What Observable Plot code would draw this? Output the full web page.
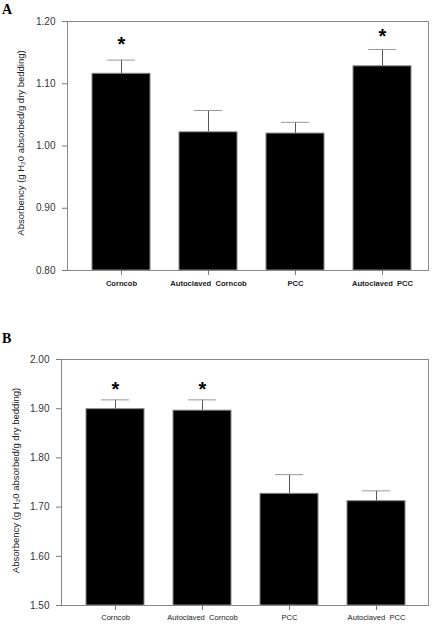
<!DOCTYPE html>
<html>
<head>
<meta charset="utf-8">
<script src="https://cdn.jsdelivr.net/npm/d3@7"></script>
<script src="https://cdn.jsdelivr.net/npm/@observablehq/plot@0.6"></script>
<style>
  html, body { margin: 0; padding: 0; background: #fff; }
  #wrap { position: relative; width: 438px; height: 626px; overflow: hidden; font-family: "Liberation Sans", Arial, sans-serif; }
  .panel { position: absolute; left: 0; }
  .letter { position: absolute; font-family: "Liberation Serif", "DejaVu Serif", serif; font-weight: bold; font-size: 14px; line-height: 1; color: #000; }
</style>
</head>
<body>
<div id="wrap">
  <div class="letter" style="left:2px; top:3px;">A</div>
  <div class="letter" style="left:2px; top:332px;">B</div>
  <div id="pa" class="panel" style="top:0px;"></div>
  <div id="pb" class="panel" style="top:310px;"></div>
</div>
<script>
// ---- data ----
const groups = ["Corncob", "Autoclaved Corncob", "PCC", "Autoclaved PCC"];
const tickLabels = ["Corncob", "Autoclaved\u00a0 Corncob", "PCC", "Autoclaved\u00a0 PCC"];

const meanA = [1.116, 1.022, 1.020, 1.128];
const seA   = [0.022, 0.035, 0.018, 0.027];
const starA = [1.167, null, null, 1.179];
const ticksA = [0.80, 0.90, 1.00, 1.10, 1.20];

const meanB = [1.899, 1.896, 1.727, 1.712];
const seB   = [0.019, 0.022, 0.039, 0.021];
const starB = [1.943, 1.943, null, null];
const ticksB = [1.50, 1.60, 1.70, 1.80, 1.90, 2.00];

const yLabel = "Absorbency (g H\u20820 absorbed/g dry bedding)";

function build(mean, se, star, ticks, opts) {
  const rows = groups.map((g, i) => ({g, mean: mean[i], top: mean[i] + se[i]}));
  const stars = groups.map((g, i) => ({g, v: star[i]})).filter(d => d.v != null);
  const lab = new Map(groups.map((g, i) => [g, tickLabels[i]]));
  const ymin = ticks[0], ymax = ticks[ticks.length - 1];
  return Plot.plot({
    width: 438,
    height: opts.height,
    marginTop: opts.mt,
    marginBottom: opts.mb,
    marginLeft: opts.ml,
    marginRight: opts.mr,
    style: {fontFamily: "'Liberation Sans', Arial, sans-serif", background: "transparent"},
    x: {domain: groups, range: opts.xr, paddingInner: 0.335, paddingOuter: 0.1675, axis: null},
    y: {domain: [ymin, ymax], axis: null},
    marks: [
      Plot.ruleX(rows, {x: "g", y1: "mean", y2: "top", stroke: "#555", strokeWidth: 1}),
      Plot.tickY(rows, {x: "g", y: "top", stroke: "#999", strokeWidth: 1, insetLeft: 15, insetRight: 15}),
      Plot.barY(rows, {x: "g", y1: ymin, y2: "mean", fill: "#000", stroke: "#888", strokeWidth: 1}),
      Plot.frame({stroke: "#888", strokeWidth: 1}),
      Plot.axisY({ticks, tickSize: 5, tickPadding: 7, tickFormat: d3.format(".2f"), fontSize: 10, stroke: "#777", fill: "#333", label: null}),
      Plot.axisX({tickSize: 5, tickPadding: opts.xpad, tickFormat: d => lab.get(d), fontSize: 7.6, fontWeight: opts.xbold ? "bold" : "normal", stroke: "#777", fill: "#222", label: null}),
      Plot.text(stars, {x: "g", y: "v", text: () => "*", fontSize: 20, fontWeight: "bold", fill: "#000", dy: 2.5}),
      Plot.text([yLabel], {frameAnchor: "left", dx: opts.ldx, dy: opts.ldy, rotate: -90, fontSize: 9.5, fill: "#222", textAnchor: "middle"})
    ]
  });
}

document.getElementById("pa").appendChild(build(meanA, seA, starA, ticksA,
  {height: 310, mt: 21, mb: 40, ml: 67, mr: 10, xr: [76.6, 425.9], xpad: 5, xbold: true, ldx: -46.3, ldy: -3}));
document.getElementById("pb").appendChild(build(meanB, seB, starB, ticksB,
  {height: 316, mt: 49, mb: 21, ml: 61, mr: 10, xr: [70.5, 419.8], xpad: 4, xbold: false, ldx: -46, ldy: -2}));
</script>
</body>
</html>
